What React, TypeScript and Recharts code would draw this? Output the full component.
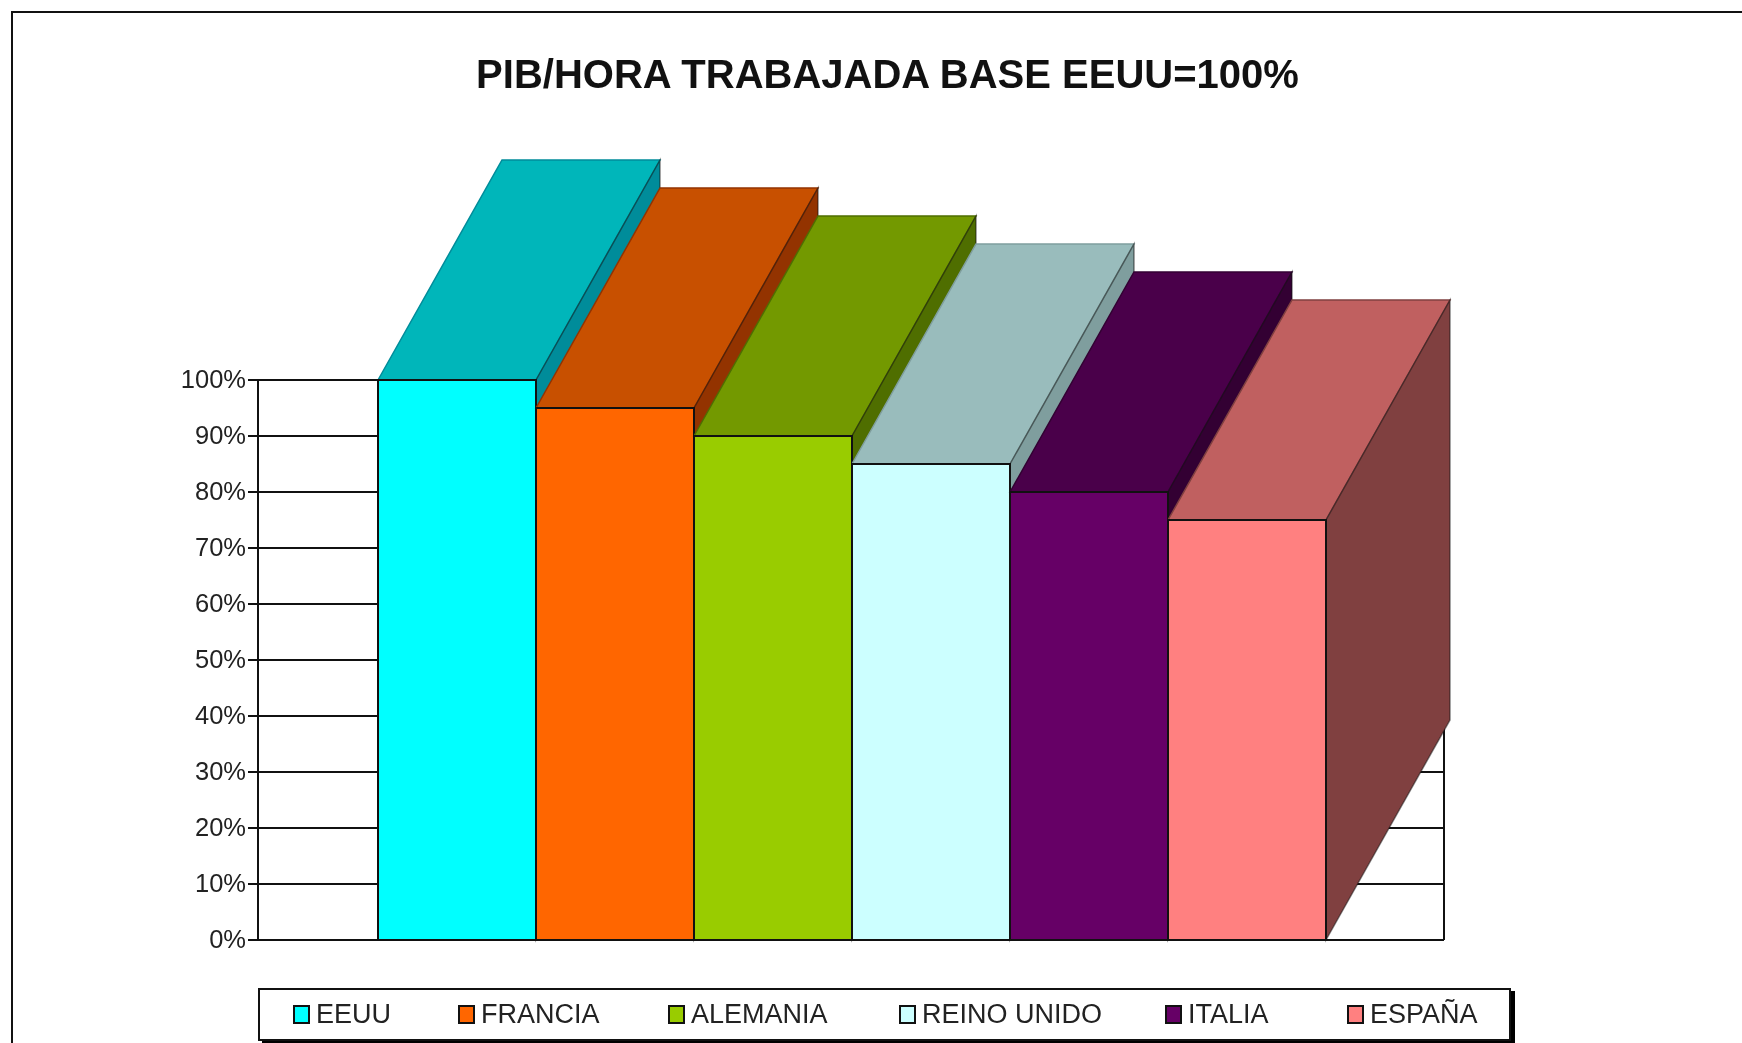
import React from "react";
import { BarChart, Bar, CartesianGrid, Legend, XAxis, YAxis } from "recharts";

const countries = ["EEUU", "FRANCIA", "ALEMANIA", "REINO UNIDO", "ITALIA", "ESPAÑA"];
const values = [100, 95, 90, 85, 80, 75];
const yTicks = [0, 10, 20, 30, 40, 50, 60, 70, 80, 90, 100];

const frontColors = ["#00FFFF", "#FF6600", "#99CC00", "#CCFFFF", "#660066", "#FF8080"];
const topColors = ["#00B6BA", "#C85000", "#739900", "#99BCBC", "#4A004A", "#C06060"];
const sideColors = ["#008C9A", "#933300", "#4F6E00", "#7F9E9E", "#330033", "#804040"];

// left edge of each legend entry inside the box
const legendLefts = [33, 198, 408, 639, 905, 1087];

const row: Record<string, string | number> = { name: "PIB/HORA" };
countries.forEach((c, i) => {
  row[c] = values[i];
});
const data = [row];

const DEPTH_X = 124;
const DEPTH_Y = 220;
const INK = "#111";
const FONT = "'Liberation Sans', Arial, sans-serif";

// each column is a box: front comes from the bar rect, top and side are offset from it
const boxShape = (index: number) => (props: any) => {
  const { x, y, width, height } = props;
  const r = x + width;
  const b = y + height;
  return (
    <g>
      <path
        d={`M${x},${y} L${x + DEPTH_X},${y - DEPTH_Y} L${r + DEPTH_X},${y - DEPTH_Y} L${r},${y} Z`}
        fill={topColors[index]}
        stroke={sideColors[index]}
        strokeWidth={1.5}
      />
      <path
        d={`M${r},${y} L${r + DEPTH_X},${y - DEPTH_Y} L${r + DEPTH_X},${b - DEPTH_Y} L${r},${b} Z`}
        fill={sideColors[index]}
        stroke={INK}
        strokeOpacity={0.5}
        strokeWidth={1.5}
      />
      <rect x={x} y={y} width={width} height={height} fill={frontColors[index]} stroke={INK} strokeWidth={2} />
    </g>
  );
};

const LegendBox = () => (
  <div
    style={{
      position: "relative",
      boxSizing: "border-box",
      width: 1253,
      height: 53,
      border: `2px solid ${INK}`,
      boxShadow: "4px 3px 0 #000",
      background: "#fff",
      fontFamily: FONT,
      fontSize: 27,
      color: "#222",
      whiteSpace: "nowrap",
    }}
  >
    {countries.map((c, i) => (
      <div
        key={c}
        style={{
          position: "absolute",
          left: legendLefts[i],
          top: 8,
          height: 32,
          display: "flex",
          alignItems: "center",
          gap: 6,
        }}
      >
        <span
          style={{
            boxSizing: "border-box",
            width: 17,
            height: 19,
            border: `2px solid ${INK}`,
            background: frontColors[i],
          }}
        />
        <span>{c}</span>
      </div>
    ))}
  </div>
);

export default function App() {
  return (
    <div
      style={{
        position: "absolute",
        left: 0,
        top: 0,
        width: 1742,
        height: 1043,
        overflow: "hidden",
        background: "#fff",
        filter: "blur(0.6px)",
      }}
    >
      <div
        style={{
          position: "absolute",
          left: 11,
          top: 11,
          width: 1800,
          height: 1100,
          border: `2.5px solid ${INK}`,
        }}
      />
      <div
        style={{
          position: "absolute",
          left: 0,
          top: 50,
          width: 1775,
          textAlign: "center",
          fontFamily: FONT,
          fontWeight: 700,
          fontSize: 40,
          lineHeight: "48px",
          color: "#111",
        }}
      >
        PIB/HORA TRABAJADA BASE EEUU=100%
      </div>
      <BarChart
        width={1742}
        height={1043}
        data={data}
        barCategoryGap={120}
        barGap={0}
        margin={{ top: 380, right: 298, bottom: 103, left: 178 }}
        style={{ position: "absolute", left: 0, top: 0 }}
      >
        {/* the back wall's right edge sits under the bars, so it goes in the grid */}
        <CartesianGrid
          stroke={INK}
          strokeWidth={2}
          verticalCoordinatesGenerator={({ offset }: any) => [offset.left + offset.width]}
        />
        <XAxis dataKey="name" tick={false} tickLine={false} height={0} axisLine={{ stroke: INK, strokeWidth: 2 }} />
        <YAxis
          domain={[0, 100]}
          ticks={yTicks}
          interval={0}
          width={80}
          tickFormatter={(v: number) => `${v}%`}
          tickSize={10}
          tickMargin={2}
          tick={{ fill: "#222", fontSize: 25.5, fontFamily: FONT, dy: -1.5 }}
          tickLine={{ stroke: INK, strokeWidth: 2 }}
          axisLine={{ stroke: INK, strokeWidth: 2 }}
        />
        {countries.map((c, i) => (
          <Bar key={c} dataKey={c} name={c} fill={frontColors[i]} shape={boxShape(i)} isAnimationActive={false} />
        ))}
        <Legend
          layout="horizontal"
          verticalAlign="middle"
          itemSorter={null}
          content={LegendBox}
          wrapperStyle={{ left: 258, top: 988, width: 1253, height: 53 }}
        />
      </BarChart>
    </div>
  );
}
